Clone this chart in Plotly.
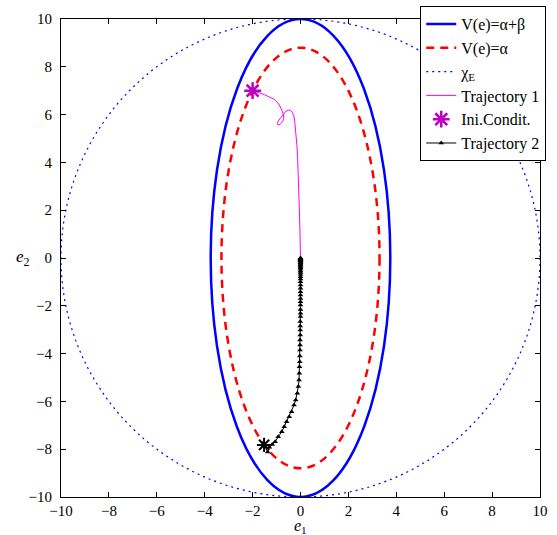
import plotly.graph_objects as go

# Ellipse / circle extents (semi-axes)
outer_ellipse = {"a": 3.75, "b": 10.0}   # V(e)=alpha+beta
inner_ellipse = {"a": 3.30, "b": 8.80}   # V(e)=alpha
chi_radius = 10.0                        # chi_E

# Trajectory 1 (magenta)
traj1_x = [-2.00, -1.85, -1.69, -1.50, -1.27, -1.10, -0.97, -0.86, -0.78, -0.71, -0.70,
           -0.75, -0.85, -0.94, -0.97, -0.92, -0.82, -0.72, -0.62, -0.52, -0.43, -0.35,
           -0.28, -0.24, -0.21, -0.18, -0.15, -0.12, -0.09, -0.06, -0.04, -0.02, -0.01, 0.00]
traj1_y = [7.00, 6.96, 6.90, 6.83, 6.74, 6.64, 6.52, 6.36, 6.18, 6.00, 5.84,
           5.70, 5.60, 5.56, 5.62, 5.74, 5.88, 6.02, 6.13, 6.19, 6.18, 6.10,
           5.95, 5.72, 5.45, 5.10, 4.70, 4.20, 3.50, 2.70, 1.80, 1.00, 0.40, 0.00]

# Trajectory 2 (black, triangles)
traj2_x = [-1.52, -1.37, -1.30, -1.18, -1.06,
           -0.93, -0.78, -0.68, -0.58, -0.47, -0.37, -0.27, -0.20, -0.13, -0.09,
           -0.06, -0.05, -0.04, -0.03, -0.03, -0.02, -0.02, -0.02, -0.01, -0.01,
           -0.01, -0.01, 0.00, 0.00, 0.00, 0.00, 0.00, 0.00, 0.00, 0.00,
           0.00, 0.00, 0.00, 0.00, 0.00, 0.00, 0.00, 0.00, 0.00, 0.00,
           0.00, 0.00, 0.00, 0.00, 0.00, 0.00, 0.00, 0.00, 0.00, 0.00,
           0.00, 0.00, 0.00, 0.00, 0.00]
traj2_y = [-7.82, -8.12, -7.92, -7.80, -7.69,
           -7.48, -7.27, -7.06, -6.85, -6.64, -6.43, -6.15, -5.94, -5.66, -5.38,
           -5.10, -4.82, -4.55, -4.34, -4.10, -3.85, -3.64, -3.43, -3.22, -3.01,
           -2.85, -2.66, -2.45, -2.31, -2.15, -1.97, -1.83, -1.69, -1.55, -1.41,
           -1.27, -1.13, -0.99, -0.88, -0.78, -0.69, -0.61, -0.54, -0.47, -0.41,
           -0.36, -0.31, -0.27, -0.23, -0.20, -0.17, -0.14, -0.12, -0.10, -0.08,
           -0.06, -0.04, -0.03, -0.01, 0.00]

ini1 = (-2.00, 7.00)
ini2 = (-1.52, -7.82)

tick_vals = [-10, -8, -6, -4, -2, 0, 2, 4, 6, 8, 10]

BLUE = "#0000ff"
RED = "#ff0000"
MAG = "#ff00ff"
PURPLE = "#bf00bf"
SERIF = "Liberation Serif, serif"

fig = go.Figure()

# Legend entries for the ellipse shapes
fig.add_trace(go.Scatter(x=[None], y=[None], mode="lines", name="V(e)=α+β",
                         line=dict(color=BLUE, width=2.5)))
fig.add_trace(go.Scatter(x=[None], y=[None], mode="lines", name="V(e)=α",
                         line=dict(color=RED, width=2.5, dash="8px,6px")))
fig.add_trace(go.Scatter(x=[None], y=[None], mode="lines", name="χ<sub>E</sub>",
                         line=dict(color=BLUE, width=1.2, dash="2px,4px")))

fig.add_trace(go.Scatter(x=traj1_x, y=traj1_y, mode="lines", name="Trajectory 1",
                         line=dict(color=MAG, width=1)))
fig.add_trace(go.Scatter(x=[ini1[0]], y=[ini1[1]], mode="markers", name="Ini.Condit.",
                         marker=dict(symbol="asterisk-open", size=14, color=PURPLE,
                                     line=dict(color=PURPLE, width=2.5))))
fig.add_trace(go.Scatter(x=traj2_x, y=traj2_y, mode="lines+markers", name="Trajectory 2",
                         line=dict(color="black", width=1),
                         marker=dict(symbol="triangle-up", size=5, color="black")))
fig.add_trace(go.Scatter(x=[ini2[0]], y=[ini2[1]], mode="markers", showlegend=False,
                         marker=dict(symbol="asterisk-open", size=12, color="black",
                                     line=dict(color="black", width=2))))

fig.add_shape(type="circle", xref="x", yref="y", layer="below",
              x0=-chi_radius, x1=chi_radius, y0=-chi_radius, y1=chi_radius,
              line=dict(color=BLUE, width=1.2, dash="2px,4px"))
fig.add_shape(type="circle", xref="x", yref="y", layer="below",
              x0=-outer_ellipse["a"], x1=outer_ellipse["a"],
              y0=-outer_ellipse["b"], y1=outer_ellipse["b"],
              line=dict(color=BLUE, width=2.5))
fig.add_shape(type="circle", xref="x", yref="y", layer="below",
              x0=-inner_ellipse["a"], x1=inner_ellipse["a"],
              y0=-inner_ellipse["b"], y1=inner_ellipse["b"],
              line=dict(color=RED, width=2.5, dash="8px,6px"))

axis_common = dict(range=[-10, 10], tickvals=tick_vals, ticks="inside", ticklen=5,
                   tickcolor="black", tickwidth=1, showline=True, linecolor="black",
                   linewidth=1, mirror="ticks", showgrid=False, zeroline=False,
                   tickfont=dict(family=SERIF, size=15, color="black"))

fig.update_xaxes(**axis_common, ticklabelstandoff=0)
fig.update_yaxes(**axis_common, ticklabelstandoff=5)

fig.add_annotation(text="<i>e</i><sub>1</sub>", xref="paper", yref="paper",
                   x=0.5, y=-0.0397, xanchor="center", yanchor="top", showarrow=False,
                   borderpad=0, font=dict(family=SERIF, size=16, color="black"))
fig.add_annotation(text="<i>e</i><sub>2</sub>", xref="paper", yref="paper",
                   x=-0.06, y=0.5, xanchor="right", yanchor="middle", showarrow=False,
                   font=dict(family=SERIF, size=17, color="black"))

fig.update_layout(
    width=557, height=535,
    margin=dict(l=61, r=17, t=19, b=38, autoexpand=False),
    plot_bgcolor="white", paper_bgcolor="white",
    legend=dict(x=0.75, y=1.027, xanchor="left", yanchor="top",
                bgcolor="white", bordercolor="black", borderwidth=1,
                font=dict(family=SERIF, size=16, color="black"),
                tracegroupgap=0),
)

fig.write_html("out.html")
